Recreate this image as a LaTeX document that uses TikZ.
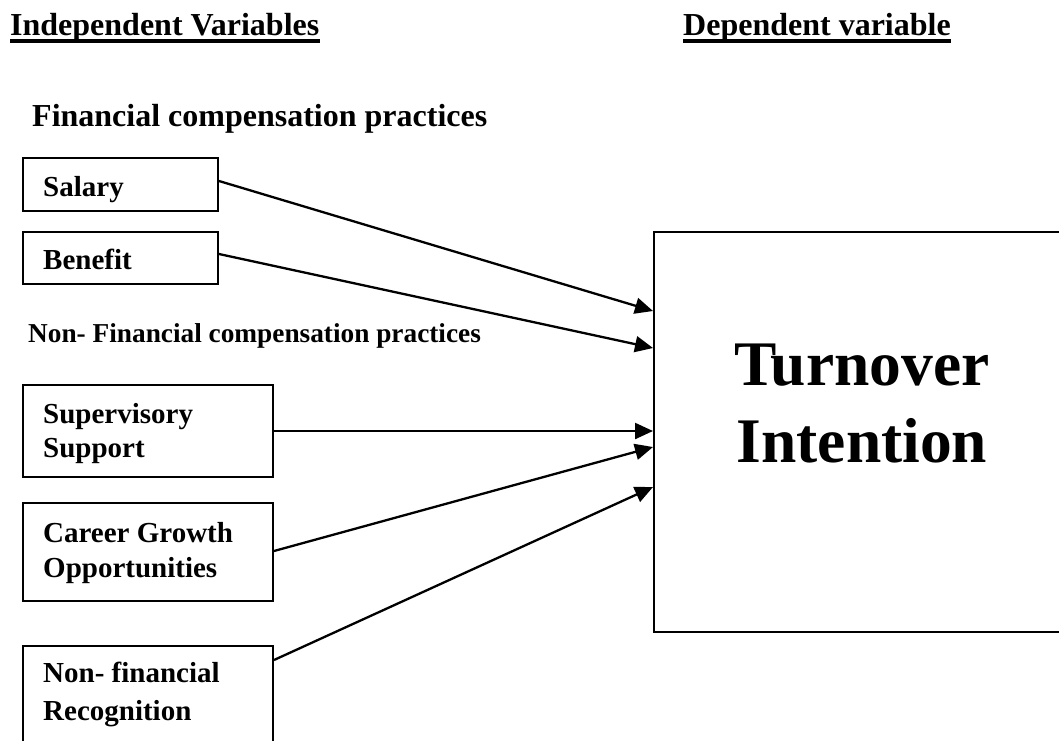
\documentclass[tikz,border=0pt]{standalone}
\usepackage{fontspec}
\setmainfont{Liberation Serif}
\usetikzlibrary{arrows.meta}
\begin{document}
\begin{tikzpicture}[x=1pt,y=-1pt,
  box/.style={draw=black,line width=2pt,minimum width=#1,inner sep=0pt,anchor=north west},
  bigbox/.style={draw=black,line width=2.3pt,inner sep=0pt,anchor=north west},
  lbl/.style={inner sep=0pt,anchor=base west,font=\fontsize{29}{34}\selectfont\bfseries},
  hdr/.style={inner sep=0pt,anchor=base west,font=\fontsize{32}{38}\selectfont\bfseries},
  sub/.style={inner sep=0pt,anchor=base west,font=\bfseries},
  arr/.style={line width=2.3pt,-{Triangle[length=18pt,width=16pt]}},
  uline/.style={line width=3.4pt}]
\useasboundingbox (0,0) rectangle (1059,740);
\fill[white] (0,0) rectangle (1059,740);
\clip (0,0) rectangle (1059,740);

% headers
\node[hdr] (h1) at (10,35) {Independent Variables};
\node[hdr] (h2) at (683,35) {Dependent variable};
\draw[uline] ([yshift=-6pt]h1.base west) -- ([yshift=-6pt]h1.base east);
\draw[uline] ([yshift=-6pt]h2.base west) -- ([yshift=-6pt]h2.base east);

\node[sub,font=\fontsize{32}{38}\selectfont\bfseries] (fin) at (32,126) {Financial compensation practices};
\node[sub,font=\fontsize{27.3}{32}\selectfont\bfseries] (nfin) at (28,342) {Non- Financial compensation practices};

% boxes
\node[box=195pt,minimum height=53pt] (sal) at (22,157) {};
\node[box=195pt,minimum height=52pt] (ben) at (22,231) {};
\node[box=250pt,minimum height=92pt] (sup) at (22,384) {};
\node[box=250pt,minimum height=98pt] (car) at (22,502) {};
\node[box=250pt,minimum height=140pt] (nfr) at (22,645) {};
\node[bigbox,minimum width=418pt,minimum height=400pt] (turn) at (653,231) {};

% labels
\node[lbl] (tsal) at (43,196) {Salary};
\node[lbl] (tben) at (43,269) {Benefit};
\node[lbl] (tsup1) at (43,423) {Supervisory};
\node[lbl] (tsup2) at (43,457) {Support};
\node[lbl] (tcar1) at (43,542) {Career Growth};
\node[lbl] (tcar2) at (43,577) {Opportunities};
\node[lbl] (tnfr1) at (43,682) {Non- financial};
\node[lbl] (tnfr2) at (43,720) {Recognition};

\node[inner sep=0pt,anchor=base,font=\fontsize{63.5}{77}\selectfont\bfseries] (t1) at (862,385) {Turnover};
\node[inner sep=0pt,anchor=base,font=\fontsize{63.5}{77}\selectfont\bfseries] (t2) at (862,462) {Intention};

% arrows
\draw[arr] ([yshift=3.5pt]sal.east) -- ([yshift=-80pt]turn.north west);
\draw[arr] ([yshift=4pt]ben.east) -- ([yshift=-117pt]turn.north west);
\draw[arr] (sup.east) -- ([yshift=-200pt]turn.north west);
\draw[arr] ([yshift=1pt]car.east) -- ([yshift=-216pt]turn.north west);
\draw[arr] ([yshift=-15pt]nfr.north east) -- ([yshift=-256pt]turn.north west);
\end{tikzpicture}
\end{document}
